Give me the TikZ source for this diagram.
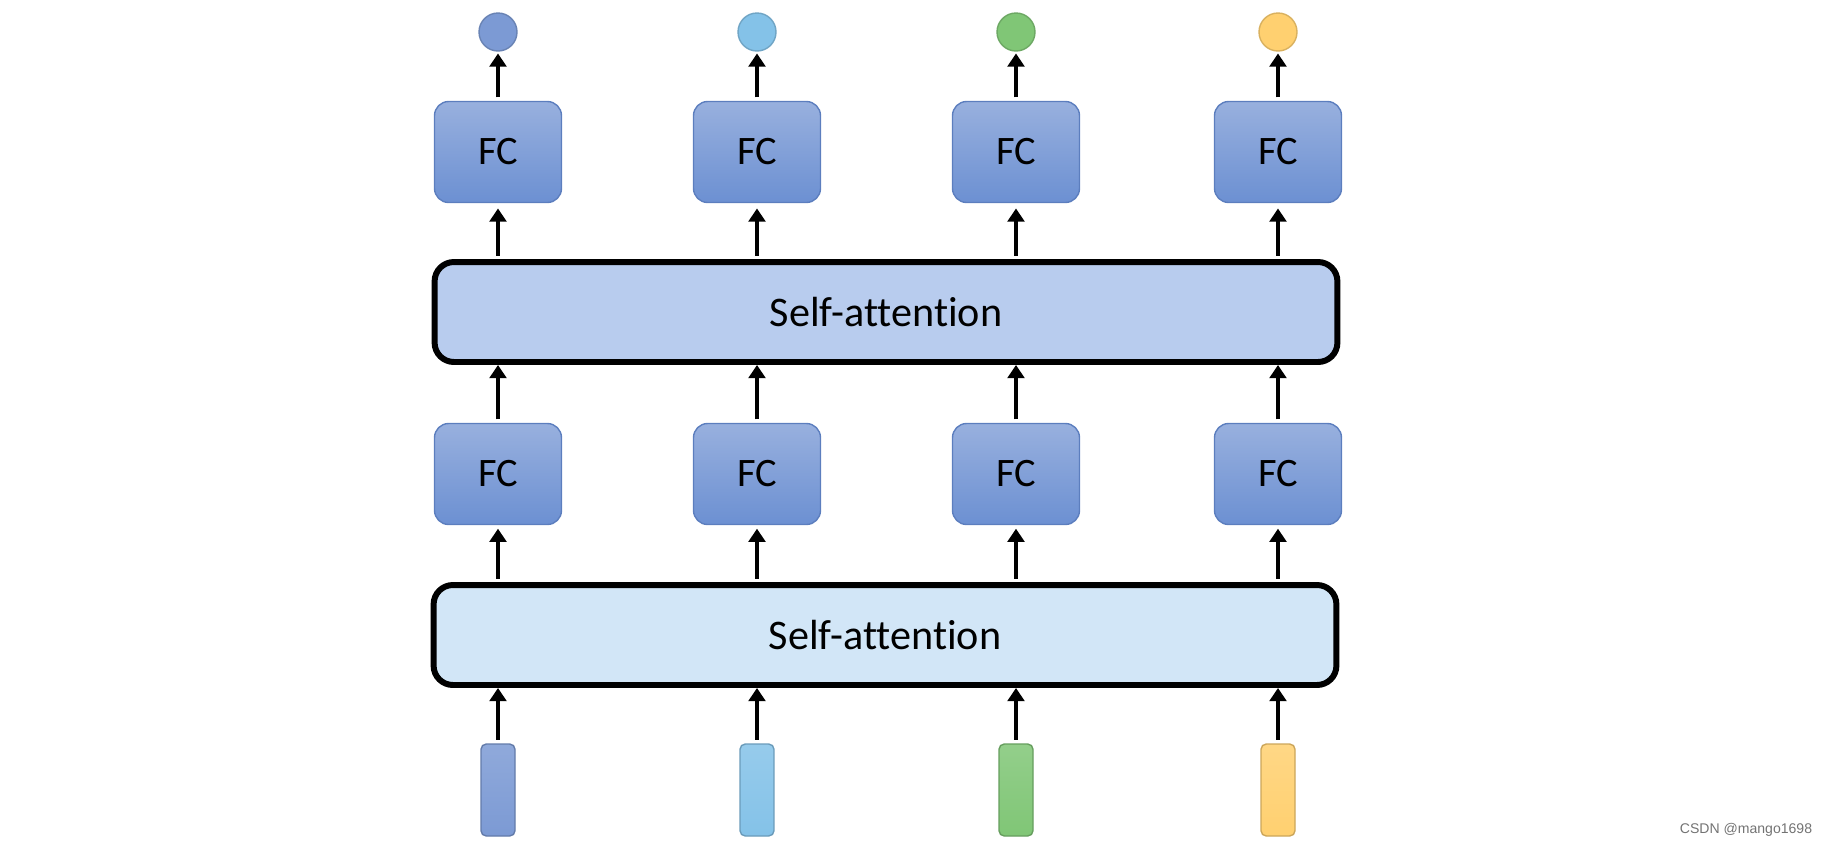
\documentclass[tikz,border=0pt]{standalone}
\usepackage{fontspec}
\setmainfont{Carlito}[Ligatures=NoCommon]
\newfontfamily\markfont{Liberation Sans}
\usepackage{tikz}
\usetikzlibrary{arrows.meta}
\definecolor{fcTop}{RGB}{152,176,222}
\definecolor{fcBot}{RGB}{108,144,210}
\definecolor{fcLine}{RGB}{92,126,190}
\definecolor{attUp}{RGB}{184,204,238}
\definecolor{attLow}{RGB}{210,230,247}
\definecolor{dkBlue}{RGB}{124,154,212}
\definecolor{ltBlue}{RGB}{132,194,232}
\definecolor{grn}{RGB}{128,198,118}
\definecolor{ylw}{RGB}{255,208,112}

\begin{document}
\begin{tikzpicture}[x=0.02cm, y=-0.02cm,
  fcbox/.style={draw=fcLine, line width=0.8pt, rounded corners=8pt, top color=fcTop, bottom color=fcBot,
    minimum width=2.54cm, minimum height=2.02cm, font=\fontsize{23}{27}\selectfont},
  attbox/.style={draw=black, line width=3.4pt, rounded corners=11pt,
    minimum width=18.06cm, minimum height=2.0cm, font=\fontsize{24}{28}\selectfont},
  inbar/.style={line width=0.8pt, rounded corners=3pt, minimum width=0.68cm, minimum height=1.84cm, inner sep=0pt},
  outdot/.style={circle, line width=0.8pt, minimum size=0.76cm, inner sep=0pt},
  arr/.style={line width=2.3pt, -{Triangle[width=9.5pt,length=7.5pt]}, shorten <=2pt}]
\useasboundingbox (0,0) rectangle (1830,856);

\node [attbox, fill=attUp] (att2) at (886,312) {Self-attention};
\node [attbox, fill=attLow] (att1) at (885,635) {Self-attention};

\foreach \x/\c [count=\i] in {498/dkBlue, 757/ltBlue, 1016/grn, 1278/ylw} {
  \node [inbar, draw=\c!80!black, top color=\c!85!white, bottom color=\c] (in\i) at (\x,790) {};
  \node [fcbox] (fcA\i) at (\x,474) {FC};
  \node [fcbox] (fcB\i) at (\x,152) {FC};
  \node [outdot, draw=\c!85!black, fill=\c] (out\i) at (\x,32) {};
  \draw [arr] (in\i.north) -- (in\i.north |- att1.south);
  \draw [arr, shorten >=2pt] (fcA\i.south |- att1.north) -- (fcA\i.south);
  \draw [arr] (fcA\i.north) -- (fcA\i.north |- att2.south);
  \draw [arr, shorten >=3pt] (fcB\i.south |- att2.north) -- (fcB\i.south);
  \draw [arr, shorten >=1pt] (fcB\i.north) -- (out\i.south);
}

\node [text=black!55, font=\markfont\fontsize{8}{10}\selectfont] (mark) at (1746,830) {CSDN @mango1698};
\end{tikzpicture}
\end{document}
